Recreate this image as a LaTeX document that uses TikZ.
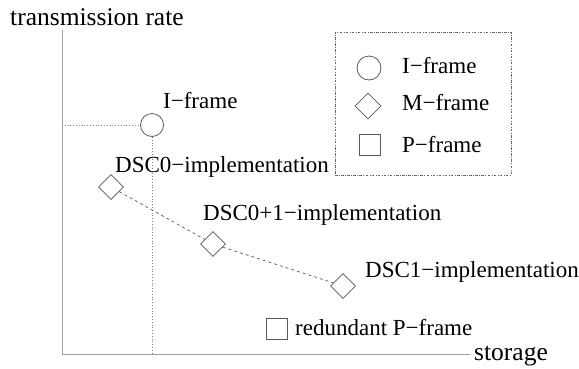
\documentclass[tikz,border=0pt]{standalone}
\usepackage{fontspec}
\setmainfont{Liberation Serif}
\usetikzlibrary{shapes.geometric}
\begin{document}
\begin{tikzpicture}[x=1pt,y=-1pt,
  lbl/.style={anchor=base west,inner sep=0pt,font=\fontsize{23}{25}\selectfont},
  axlbl/.style={lbl,font=\fontsize{25.5}{28}\selectfont},
  ax/.style={draw=gray!75,line width=1pt},
  shp/.style={draw=gray!70!black,line width=0.8pt,inner sep=0pt},
  ishape/.style={shp,circle,minimum size=23pt},
  mshape/.style={shp,diamond,aspect=1,minimum size=25pt},
  pshape/.style={shp,rectangle,minimum size=21pt},
  guide/.style={draw=gray,dotted,line width=0.8pt},
  link/.style={draw=gray!70!black,dashed,line width=0.7pt}]
\useasboundingbox (0,0) rectangle (579,368);
% axes
\coordinate (ytop) at (62,30);
\coordinate (O) at (62,354);
\coordinate (xend) at (470,354);
\draw[ax] (ytop) -- (O) -- (xend);
\node[axlbl] (ylab) at (10,25) {transmission rate};
\node[axlbl] (xlab) at (474,360) {storage};
% I-frame
\node[ishape] (I) at (152,125) {};
\coordinate (yI) at (62,125);
\coordinate (xI) at (152,354);
\draw[guide] (yI) -- (I);
\draw[guide] (I) -- (xI);
\node[lbl] (Ilab) at (163,108) {I−frame};
% M-frames
\node[mshape] (d1) at (111,187) {};
\node[mshape] (d2) at (213,244) {};
\node[mshape] (d3) at (343,286) {};
\draw[link] (d1) -- (d2) -- (d3);
\node[lbl] (d1lab) at (115,172) {DSC0−implementation};
\node[lbl] (d2lab) at (203,220) {DSC0+1−implementation};
\node[lbl] (d3lab) at (365,277) {DSC1−implementation};
% redundant P-frame
\node[pshape] (p) at (276.5,328.5) {};
\node[lbl] (plab) at (295,335) {redundant P−frame};
% legend
\node[draw=gray!80!black,line width=0.8pt,dash pattern=on 2.5pt off 1.5pt on 0.6pt off 1.5pt,
  minimum width=176pt,minimum height=143pt,inner sep=0pt] (legend) at (423,103.5) {};
\node[ishape,minimum size=24pt] (li) at (369,68) {};
\node[lbl] (lilab) at (402,73) {I−frame};
\node[mshape,minimum size=26pt] (lm) at (368,106) {};
\node[lbl] (lmlab) at (402,110) {M−frame};
\node[pshape] (lp) at (370,145) {};
\node[lbl] (lplab) at (402,152) {P−frame};
\end{tikzpicture}
\end{document}
